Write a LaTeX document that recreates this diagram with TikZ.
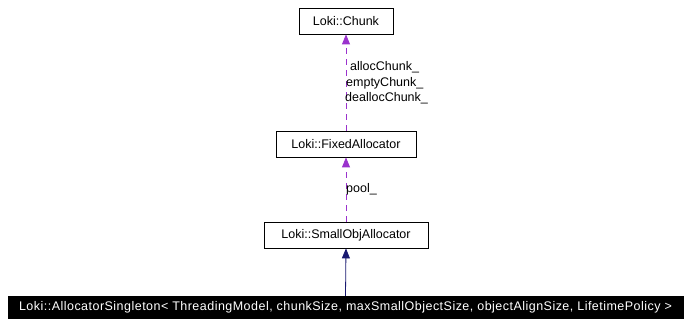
\documentclass[tikz,border=0pt]{standalone}
\usepackage{fontspec}
\setmainfont{Liberation Sans}
\newfontfamily\widesans[LetterSpace=3.8]{Liberation Sans}
\usetikzlibrary{arrows.meta}
\definecolor{edgepurple}{HTML}{9A32CD}
\definecolor{edgenavy}{HTML}{191970}
\tikzset{
  x=1pt, y=-1pt,
  classbox/.style={draw=black, line width=0.8pt, fill=white, inner sep=0pt, font=\fontsize{12.5}{15}\selectfont},
  usage/.style={draw=edgepurple, dashed, dash pattern=on 6pt off 5pt, line width=0.8pt, -{Triangle[length=10pt,width=8pt]}},
  inherit/.style={draw=edgenavy, line width=0.8pt, -{Triangle[length=10pt,width=8pt]}},
  elabel/.style={font=\fontsize{12.5}{15.5}\selectfont, inner sep=0pt, anchor=west, align=left}
}
\begin{document}
\begin{tikzpicture}
\useasboundingbox (0,0) rectangle (691,331);
\node[classbox, minimum width=94pt, minimum height=26pt] (chunk) at (346,21) {Loki::Chunk};
\node[classbox, minimum width=140pt, minimum height=26pt] (fixed) at (346,144) {Loki::FixedAllocator};
\node[classbox, minimum width=164pt, minimum height=26pt] (small) at (346,235) {Loki::SmallObjAllocator};
\node[draw=black, fill=black, text=white, inner sep=0pt, minimum width=675pt, minimum height=22pt, font=\widesans\fontsize{12.5}{15}\selectfont] (singleton) at (345.5,307) {Loki::AllocatorSingleton< ThreadingModel, chunkSize, maxSmallObjectSize, objectAlignSize, LifetimePolicy >};
\draw[usage] (fixed.north) -- (chunk.south);
\draw[usage] (small.north) -- (fixed.south);
\draw[inherit] (singleton.north) -- (small.south);
\node[elabel] (lbl1) at (345,83) {\hspace{5pt}allocChunk\_\\\hspace{1pt}emptyChunk\_\\deallocChunk\_};
\node[elabel] (lbl2) at (346,189) {pool\_};
\end{tikzpicture}
\end{document}
